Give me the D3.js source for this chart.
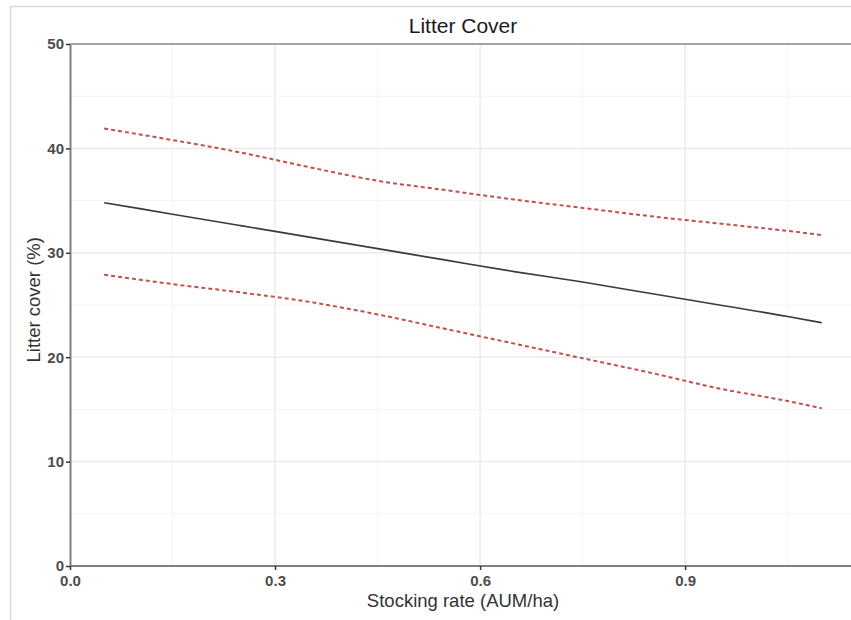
<!DOCTYPE html>
<html>
<head>
<meta charset="utf-8">
<script src="https://cdn.jsdelivr.net/npm/d3@7"></script>
<style>
  body { margin: 0; background: #fff; }
  text { font-family: "Liberation Sans", Arial, sans-serif; }
</style>
</head>
<body>
<div id="chart"></div>
<script>
// stocking rate (AUM/ha) and fitted litter cover (%)
const stocking = [0.05, 0.15, 0.25, 0.35, 0.45, 0.55, 0.65, 0.75, 0.85, 0.95, 1.05, 1.1];
const fit      = [34.8, 33.7, 32.6, 31.5, 30.4, 29.3, 28.2, 27.2, 26.1, 25.0, 23.9, 23.3];
const upper    = [41.9, 40.8, 39.6, 38.2, 36.9, 36.0, 35.1, 34.3, 33.5, 32.8, 32.1, 31.7];
const lower    = [27.9, 27.0, 26.2, 25.3, 24.1, 22.7, 21.3, 19.9, 18.5, 17.0, 15.8, 15.1];

const xTicks = [0, 0.3, 0.6, 0.9];
const xMinor = [0.15, 0.45, 0.75, 1.05];
const yTicks = [0, 10, 20, 30, 40, 50];
const yMinor = [5, 15, 25, 35, 45];

const width = 851;
const height = 620;
const margin = {top: 44, right: -5, bottom: 54, left: 70};

const svg = d3.select("#chart")
    .append("svg")
    .attr("width", width)
    .attr("height", height)

// outer frame of the picture
svg.append("rect")
    .attr("x", 10.5)
    .attr("y", 6.5)
    .attr("width", width)
    .attr("height", height)
    .attr("fill", "none")
    .attr("stroke", "#d9d9d9")
    .attr("stroke-width", 1.5)

const x = d3.scaleLinear()
    .domain([0, 1.15])
    .range([margin.left, width - margin.right])

const y = d3.scaleLinear()
    .domain([0, 50])
    .range([height - margin.bottom, margin.top])

// grid
const grid = svg.append("g")
grid.selectAll(".vminor").data(xMinor).join("line")
    .attr("x1", d => x(d)).attr("x2", d => x(d))
    .attr("y1", y(0)).attr("y2", y(50))
    .attr("stroke", "#f4f4f4").attr("stroke-width", 1)
grid.selectAll(".hminor").data(yMinor).join("line")
    .attr("y1", d => y(d)).attr("y2", d => y(d))
    .attr("x1", x(0)).attr("x2", width)
    .attr("stroke", "#f4f4f4").attr("stroke-width", 1)
grid.selectAll(".vmajor").data(xTicks.slice(1)).join("line")
    .attr("x1", d => x(d)).attr("x2", d => x(d))
    .attr("y1", y(0)).attr("y2", y(50))
    .attr("stroke", "#ebebeb").attr("stroke-width", 1.5)
grid.selectAll(".hmajor").data(yTicks.slice(1)).join("line")
    .attr("y1", d => y(d)).attr("y2", d => y(d))
    .attr("x1", x(0)).attr("x2", width)
    .attr("stroke", "#ebebeb").attr("stroke-width", 1.5)

// panel top border
svg.append("line")
    .attr("x1", x(0)).attr("x2", width)
    .attr("y1", y(50)).attr("y2", y(50))
    .attr("stroke", "#8c8c8c").attr("stroke-width", 1.5)

// lines
const line = vals => d3.line()
    .curve(d3.curveMonotoneX)
    .x((d, i) => x(stocking[i]))
    .y(d => y(d))(vals)

svg.append("path")
    .attr("d", line(upper))
    .attr("fill", "none")
    .attr("stroke", "#c0504d")
    .attr("stroke-width", 2)
    .attr("stroke-dasharray", "4,3")

svg.append("path")
    .attr("d", line(lower))
    .attr("fill", "none")
    .attr("stroke", "#c0504d")
    .attr("stroke-width", 2)
    .attr("stroke-dasharray", "4,3")

svg.append("path")
    .attr("d", line(fit))
    .attr("fill", "none")
    .attr("stroke", "#3a3a3a")
    .attr("stroke-width", 1.6)

// axes
const xAxis = svg.append("g")
    .attr("transform", `translate(0, ${y(0)})`)
    .call(d3.axisBottom(x).tickValues(xTicks).tickFormat(d3.format(".1f")).tickSize(4).tickSizeOuter(0))
const yAxis = svg.append("g")
    .attr("transform", `translate(${x(0)}, 0)`)
    .call(d3.axisLeft(y).tickValues(yTicks).tickSize(4).tickSizeOuter(0))

xAxis.attr("font-size", 15)
yAxis.attr("font-size", 15)
xAxis.select(".domain").attr("stroke", "#7f7f7f").attr("stroke-width", 2).attr("d", `M${x(0)},0H${width}`)
yAxis.select(".domain").attr("stroke", "#7f7f7f").attr("stroke-width", 2)
svg.selectAll(".tick line").attr("stroke", "#333").attr("stroke-width", 1.5)
svg.selectAll(".tick text")
    .style("font-size", "15px")
    .attr("font-weight", "bold")
    .attr("fill", "#4d4d4d")
xAxis.selectAll(".tick text").attr("dy", "0.85em")
yAxis.selectAll(".tick text").attr("x", -6)

// titles
svg.append("text")
    .attr("x", x(0.575))
    .attr("y", 33)
    .attr("text-anchor", "middle")
    .attr("font-size", 21)
    .attr("fill", "#1a1a1a")
    .text("Litter Cover")

svg.append("text")
    .attr("x", x(0.575))
    .attr("y", 607)
    .attr("text-anchor", "middle")
    .attr("font-size", 18.5)
    .attr("fill", "#333")
    .text("Stocking rate (AUM/ha)")

svg.append("text")
    .attr("transform", `translate(40, ${y(25.5)}) rotate(-90)`)
    .attr("text-anchor", "middle")
    .attr("font-size", 18.5)
    .attr("fill", "#333")
    .text("Litter cover (%)")
</script>
</body>
</html>
